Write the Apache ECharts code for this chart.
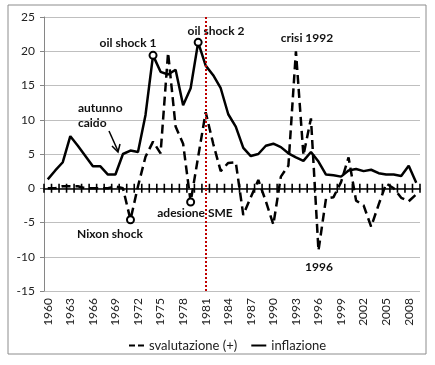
<!DOCTYPE html>
<html>
<head>
<meta charset="utf-8">
<script src="https://cdn.jsdelivr.net/npm/echarts@6/dist/echarts.min.js"></script>
<style>
html,body{margin:0;padding:0;background:#fff;}
#chart{width:435px;height:365px;}
</style>
</head>
<body>
<div id="chart"></div>
<script>
// ---- data ----
var years = [];
for (var y = 1960; y <= 2009; y++) years.push(String(y));

var svalutazione = [
  0, 0, 0.3, 0.3, 0.3, 0, 0, 0, 0, 0.3,
  0, -4.6, 0.3, 4.6, 6.8, 5.1, 19.8, 9.0, 6.5, -2.0,
  4.6, 11.1, 6.5, 2.5, 3.7, 3.8, -3.9, -1.3, 1.2, -1.9,
  -5.3, 1.7, 3.3, 20.0, 4.8, 10.2, -9.1, -1.5, -1.3, 0.9,
  4.5, -1.8, -2.5, -5.6, -2.4, 0.7, 0.0, -1.4, -1.9, -0.9
];
var inflazione = [
  1.3, 2.6, 3.8, 7.6, 6.2, 4.7, 3.2, 3.2, 2.0, 2.0,
  5.0, 5.5, 5.3, 10.7, 19.4, 17.0, 16.6, 17.3, 12.1, 14.6,
  21.3, 17.9, 16.5, 14.6, 10.8, 9.0, 5.9, 4.7, 5.0, 6.2,
  6.5, 6.0, 5.1, 4.5, 4.0, 5.3, 3.9, 2.0, 1.9, 1.7,
  2.6, 2.8, 2.5, 2.7, 2.2, 2.0, 2.0, 1.8, 3.3, 0.8
];
var seriesNames = ['svalutazione (+)', 'inflazione'];
var yTicks = { min: -15, max: 25, step: 5 };
var markedSval = ['1971', '1979'];
var markedInfl = ['1974', '1980'];
var breakYear = '1981';

var annotations = [
  ['oil shock 1', 128, 43, 'center'],
  ['oil shock 2', 216, 31, 'center'],
  ['crisi 1992', 307, 38, 'center'],
  ['autunno', 78, 108, 'left'],
  ['caldo', 78, 123, 'left'],
  ['Nixon shock', 110, 234, 'center'],
  ['adesione SME', 195, 213, 'center'],
  ['1996', 319, 267, 'center']
];

function markerPoints(vals, marked) {
  return marked.map(function (yr) {
    return { coord: [yr, vals[years.indexOf(yr)]] };
  });
}

var FONT = 'Lato, "Liberation Sans", sans-serif';

var graphics = [
  { type: 'rect', shape: { x: 8, y: 5, width: 418, height: 349 },
    style: { fill: 'none', stroke: '#8c8c8c', lineWidth: 1 }, silent: true },
  { type: 'line', shape: { x1: 109, y1: 131, x2: 118, y2: 151 },
    style: { stroke: '#000', lineWidth: 1.5 } },
  { type: 'polyline', shape: { points: [[112, 146], [118, 152], [120, 144]] },
    style: { stroke: '#000', lineWidth: 1.5, fill: 'none' } }
];
annotations.forEach(function (a) {
  graphics.push({
    type: 'text', x: a[1], y: a[2],
    style: { text: a[0], font: 'bold 12px ' + FONT, fill: '#111',
             textAlign: a[3], textVerticalAlign: 'middle' }
  });
});

var markerStyle = {
  symbol: 'emptyCircle', symbolSize: 7, silent: true,
  label: { show: false },
  itemStyle: { color: '#000', borderColor: '#000', borderWidth: 1.2 }
};

// crossing tick marks on the zero axis, between categories
function renderCrossTicks(params, api) {
  var c = api.coord([api.value(0), 0]);
  var w = api.size([1, 0])[0];
  var half = 4.5;
  var xs = [c[0] - w / 2];
  if (params.dataIndex === years.length - 1) xs.push(c[0] + w / 2);
  return {
    type: 'group',
    children: xs.map(function (x) {
      return { type: 'line', shape: { x1: x, y1: c[1] - half, x2: x, y2: c[1] + half },
               style: { stroke: '#000', lineWidth: 1.6 } };
    })
  };
}

var chart = echarts.init(document.getElementById('chart'), null, { renderer: 'canvas' });
var baseX = { type: 'category', data: years, boundaryGap: true };

chart.setOption({
  animation: false,
  textStyle: { fontFamily: FONT },
  grid: { left: 44, right: 15, top: 17, bottom: 74, containLabel: false },
  legend: {
    data: [
      { name: seriesNames[0], icon: 'path://M0,0H6V2H0Z M9,0H15V2H9Z' },
      { name: seriesNames[1], icon: 'path://M0,0H15V2H0Z' }
    ],
    left: 124, top: 334, itemWidth: 15, itemHeight: 3, itemGap: 14,
    itemStyle: { color: '#000' },
    textStyle: { fontSize: 13, color: '#222', fontFamily: FONT }
  },
  xAxis: [
    Object.assign({}, baseX, {
      position: 'bottom',
      axisLine: { show: false, onZero: false },
      axisTick: { show: false },
      splitLine: { show: false },
      axisLabel: { rotate: 90, interval: 2, margin: 7, fontSize: 12, color: '#222', fontFamily: FONT }
    }),
    Object.assign({}, baseX, {
      position: 'bottom',
      axisLine: { show: true, onZero: true, onZeroAxisIndex: 0, lineStyle: { color: '#000', width: 1.5 } },
      axisTick: { show: false },
      axisLabel: { show: false },
      splitLine: { show: false }
    })
  ],
  yAxis: {
    type: 'value', min: yTicks.min, max: yTicks.max, interval: yTicks.step,
    position: 'left',
    axisLine: { show: true, onZero: false, lineStyle: { color: '#868686', width: 1 } },
    axisTick: { show: true, length: 4, lineStyle: { color: '#868686' } },
    axisLabel: { fontSize: 12, color: '#222', margin: 9, fontFamily: FONT },
    splitLine: { lineStyle: { color: '#bfbfbf', width: 1 } }
  },
  series: [
    {
      type: 'custom', xAxisIndex: 0, yAxisIndex: 0, silent: true, z: 5,
      renderItem: renderCrossTicks,
      encode: { x: 0, y: 1 },
      clip: false,
      data: years.map(function (yr) { return [yr, 0]; })
    },
    {
      name: seriesNames[0], type: 'line', xAxisIndex: 0, yAxisIndex: 0,
      data: svalutazione,
      symbol: 'none',
      lineStyle: { color: '#000', width: 2.5, type: [9, 5] },
      itemStyle: { color: '#000' },
      z: 3,
      markPoint: Object.assign({ data: markerPoints(svalutazione, markedSval) }, markerStyle),
      markLine: {
        silent: true, symbol: 'none', label: { show: false },
        lineStyle: { color: '#c00000', type: [2, 2], width: 2 },
        data: [{ xAxis: breakYear }]
      }
    },
    {
      name: seriesNames[1], type: 'line', xAxisIndex: 0, yAxisIndex: 0,
      data: inflazione,
      symbol: 'none',
      lineStyle: { color: '#000', width: 2.5 },
      itemStyle: { color: '#000' },
      z: 4,
      markPoint: Object.assign({ data: markerPoints(inflazione, markedInfl) }, markerStyle)
    }
  ],
  graphic: graphics
});
</script>
</body>
</html>
